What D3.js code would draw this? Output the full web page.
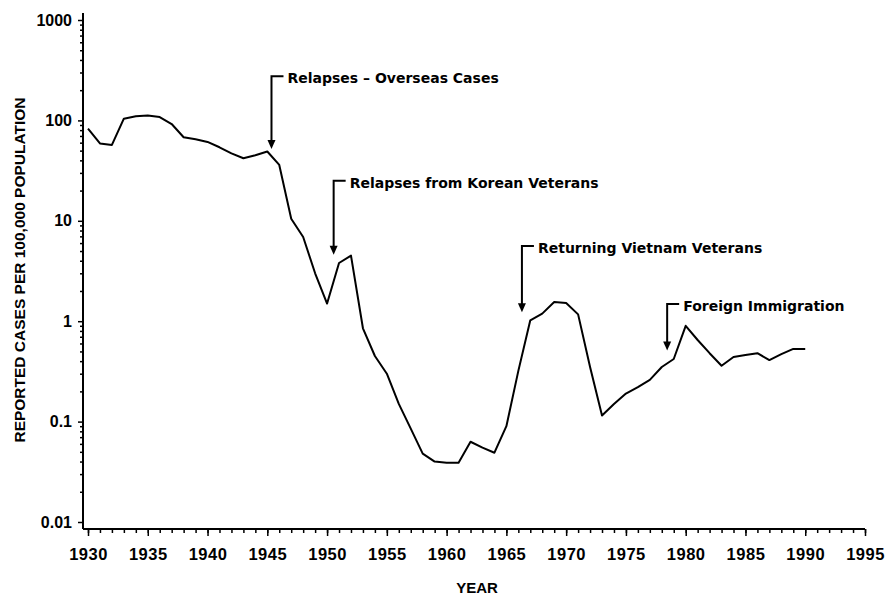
<!DOCTYPE html>
<html>
<head>
<meta charset="utf-8">
<script src="https://cdn.jsdelivr.net/npm/d3@7"></script>
<style>
  body { margin: 0; background: #fff; }
  text { font-family: "Liberation Sans", Arial, sans-serif; font-weight: bold; fill: #000; }
  .anno text { font-family: "DejaVu Sans", sans-serif; }
</style>
</head>
<body>
<div id="chart"></div>
<script>
// reported malaria cases per 100,000 population, by year
var years = d3.range(1930, 1991);
var rates = [
  83, 59, 57, 104, 110, 112, 108, 92, 68, 65,
  61, 54, 47, 42, 45, 49, 36, 10.5, 6.9, 3.0,
  1.5, 3.8, 4.5, 0.85, 0.45, 0.3, 0.15, 0.085, 0.048, 0.040,
  0.039, 0.039, 0.063, 0.055, 0.049, 0.09, 0.32, 1.02, 1.19, 1.55,
  1.52, 1.17, 0.35, 0.115, 0.15, 0.19, 0.22, 0.26, 0.35, 0.42,
  0.9, 0.65, 0.48, 0.36, 0.44, 0.46, 0.48, 0.41, 0.47, 0.53,
  0.53
];

var yTicks = [0.01, 0.1, 1, 10, 100, 1000];
var yTickLabels = ["0.01", "0.1", "1", "10", "100", "1000"];
var xTicks = d3.range(1930, 1996, 5);

// annotations: label, year of arrow, value at arrow tip, value at bracket top
var annoLabels = ["Relapses \u2013 Overseas Cases", "Relapses from Korean Veterans",
                  "Returning Vietnam Veterans", "Foreign Immigration"];
var annoYears = [1945.35, 1950.55, 1966.3, 1978.45];
var annoTipValues = [52, 4.6, 1.23, 0.51];
var annoTopValues = [275, 25, 5.6, 1.48];

var width = 886, height = 597;
var axisX = 83, axisY = 529;

var svg = d3.select("#chart").append("svg")
  .attr("width", width)
  .attr("height", height);

var x = d3.scaleLinear()
  .domain([1930, 1995])
  .range([88, 865]);

var y = d3.scaleLog()
  .domain([0.01, 1000])
  .range([522, 20]);

// minor ticks on y (2..9 per decade)
var yMinor = [];
for (var e = -2; e < 3; e++) {
  for (var m = 2; m < 10; m++) yMinor.push(m * Math.pow(10, e));
}

var yMinorAxis = svg.append("g")
  .attr("transform", "translate(" + axisX + ",0)")
  .call(d3.axisLeft(y).tickValues(yMinor).tickSize(3).tickFormat(""));
yMinorAxis.select(".domain").remove();

var yAxis = svg.append("g")
  .attr("transform", "translate(" + axisX + ",0)")
  .call(d3.axisLeft(y).tickValues(yTicks).tickSize(5).tickPadding(6)
        .tickFormat(function(d, i) { return yTickLabels[i]; }));
yAxis.select(".domain").remove();
yAxis.selectAll("text").style("font-size", "16px");

// minor ticks on x, every year
var xMinorAxis = svg.append("g")
  .attr("transform", "translate(0," + axisY + ")")
  .call(d3.axisBottom(x).tickValues(d3.range(1930, 1996)).tickSize(4).tickFormat(""));
xMinorAxis.select(".domain").remove();

var xAxis = svg.append("g")
  .attr("transform", "translate(0," + axisY + ")")
  .call(d3.axisBottom(x).tickValues(xTicks).tickSize(7).tickPadding(12).tickFormat(d3.format("d")));
xAxis.select(".domain").remove();
xAxis.selectAll("text").style("font-size", "16.5px").style("letter-spacing", "0.5px");

svg.selectAll(".tick line").attr("stroke", "#000").attr("stroke-width", 1.5);

// axis lines
svg.append("line")
  .attr("x1", axisX).attr("x2", axisX)
  .attr("y1", 13).attr("y2", axisY)
  .attr("stroke", "#000").attr("stroke-width", 2);
svg.append("line")
  .attr("x1", axisX).attr("x2", x(1995))
  .attr("y1", axisY).attr("y2", axisY)
  .attr("stroke", "#000").attr("stroke-width", 2);

// axis titles
svg.append("text")
  .attr("transform", "translate(25,270) rotate(-90)")
  .attr("text-anchor", "middle")
  .style("font-size", "15.5px")
  .text("REPORTED CASES PER 100,000 POPULATION");

svg.append("text")
  .attr("x", 477)
  .attr("y", 593)
  .attr("text-anchor", "middle")
  .style("font-size", "15px")
  .text("YEAR");

// the series
var line = d3.line()
  .x(function(d, i) { return x(years[i]); })
  .y(function(d) { return y(d); });

svg.append("path")
  .datum(rates)
  .attr("d", line)
  .attr("fill", "none")
  .attr("stroke", "#000")
  .attr("stroke-width", 2)
  .attr("stroke-linejoin", "round");

// annotations
var annos = svg.selectAll(".anno")
  .data(annoLabels)
  .enter().append("g")
  .attr("class", "anno");

annos.append("path")
  .attr("d", function(d, i) {
    var ax = x(annoYears[i]), top = y(annoTopValues[i]), tip = y(annoTipValues[i]);
    return "M" + (ax + 12) + "," + top + "H" + ax + "V" + (tip - 6);
  })
  .attr("fill", "none")
  .attr("stroke", "#000")
  .attr("stroke-width", 2);

annos.append("path")
  .attr("d", function(d, i) {
    var ax = x(annoYears[i]), tip = y(annoTipValues[i]);
    return "M" + (ax - 4) + "," + (tip - 9) + "L" + (ax + 4) + "," + (tip - 9) + "L" + ax + "," + tip + "Z";
  })
  .attr("fill", "#000");

annos.append("text")
  .attr("x", function(d, i) { return x(annoYears[i]) + 16; })
  .attr("y", function(d, i) { return y(annoTopValues[i]) + 7; })
  .style("font-size", "14px")
  .text(function(d) { return d; });
</script>
</body>
</html>
